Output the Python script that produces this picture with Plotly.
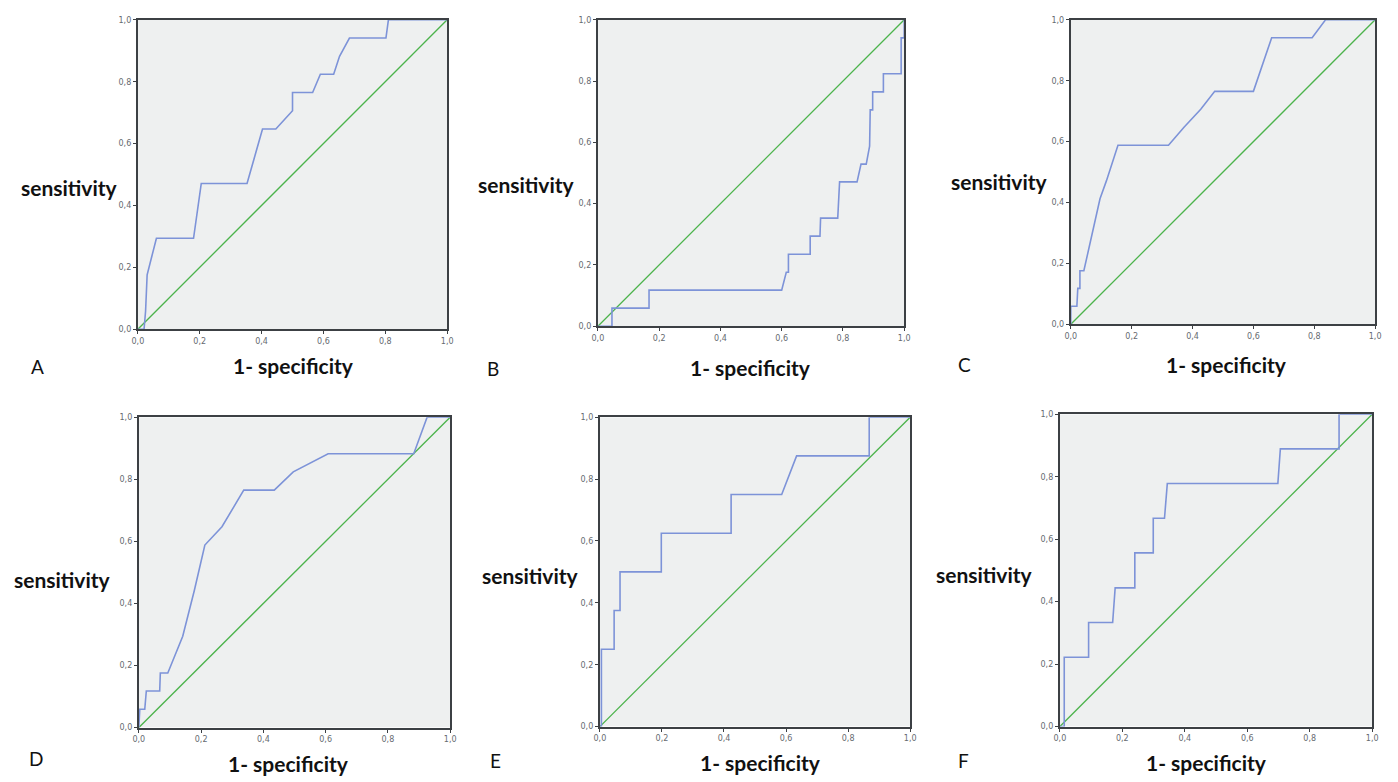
import plotly.graph_objects as go

W, H = 1398, 782

# ---- data ----
panel_letters = ["A", "B", "C", "D", "E", "F"]
tick_vals = [0.0, 0.2, 0.4, 0.6, 0.8, 1.0]
tick_text = ["0,0", "0,2", "0,4", "0,6", "0,8", "1,0"]
y_title = "sensitivity"
x_title = "1- specificity"

roc_A_x = [0, 0.02, 0.025, 0.03, 0.045, 0.06, 0.18, 0.205, 0.353, 0.403, 0.446, 0.5, 0.5, 0.565, 0.59, 0.633, 0.652, 0.684, 0.802, 0.81, 1.0]
roc_A_y = [0, 0.0, 0.059, 0.176, 0.235, 0.294, 0.294, 0.471, 0.471, 0.647, 0.647, 0.706, 0.765, 0.765, 0.824, 0.824, 0.882, 0.941, 0.941, 1.0, 1.0]

roc_B_x = [0, 0.046, 0.046, 0.167, 0.167, 0.6, 0.615, 0.622, 0.622, 0.693, 0.693, 0.725, 0.727, 0.783, 0.789, 0.846, 0.859, 0.876, 0.887, 0.889, 0.897, 0.897, 0.932, 0.932, 0.99, 0.99, 1.0, 1.0]
roc_B_y = [0, 0.0, 0.059, 0.059, 0.118, 0.118, 0.176, 0.176, 0.235, 0.235, 0.294, 0.294, 0.353, 0.353, 0.471, 0.471, 0.529, 0.529, 0.588, 0.706, 0.706, 0.765, 0.765, 0.824, 0.824, 0.941, 0.941, 1.0]

roc_C_x = [0, 0.0, 0.02, 0.023, 0.03, 0.03, 0.043, 0.096, 0.117, 0.155, 0.321, 0.372, 0.427, 0.473, 0.60, 0.66, 0.793, 0.837, 1.0]
roc_C_y = [0, 0.059, 0.059, 0.118, 0.118, 0.176, 0.176, 0.412, 0.471, 0.588, 0.588, 0.647, 0.706, 0.765, 0.765, 0.941, 0.941, 1.0, 1.0]

roc_D_x = [0, 0.003, 0.019, 0.024, 0.067, 0.069, 0.093, 0.141, 0.178, 0.212, 0.267, 0.337, 0.435, 0.496, 0.608, 0.883, 0.926, 1.0]
roc_D_y = [0, 0.059, 0.059, 0.118, 0.118, 0.176, 0.176, 0.294, 0.441, 0.588, 0.647, 0.765, 0.765, 0.824, 0.882, 0.882, 1.0, 1.0]

roc_E_x = [0, 0.005, 0.005, 0.046, 0.046, 0.065, 0.065, 0.198, 0.198, 0.423, 0.423, 0.586, 0.634, 0.868, 0.868, 1.0]
roc_E_y = [0, 0.0, 0.25, 0.25, 0.375, 0.375, 0.5, 0.5, 0.625, 0.625, 0.75, 0.75, 0.875, 0.875, 1.0, 1.0]

roc_F_x = [0, 0.014, 0.014, 0.092, 0.092, 0.169, 0.177, 0.24, 0.24, 0.299, 0.299, 0.335, 0.344, 0.698, 0.706, 0.894, 0.894, 1.0]
roc_F_y = [0, 0.0, 0.222, 0.222, 0.333, 0.333, 0.444, 0.444, 0.556, 0.556, 0.667, 0.667, 0.778, 0.778, 0.889, 0.889, 1.0, 1.0]

ref_x = [0.0, 1.0]
ref_y = [0.0, 1.0]

curves = [(roc_A_x, roc_A_y), (roc_B_x, roc_B_y), (roc_C_x, roc_C_y),
          (roc_D_x, roc_D_y), (roc_E_x, roc_E_y), (roc_F_x, roc_F_y)]

# ---- layout (pixel boxes of each plot area: left, top, right, bottom) ----
boxes = [(133, 16, 445, 329), (597, 16, 906, 326), (1074, 16, 1381, 324),
         (134, 418, 448, 732), (599, 418, 912, 731), (1063, 415, 1378, 731)]
ylab_pos = [(64, 186), (525, 183), (1002, 180), (57, 582), (529, 578), (987, 577)]
xlab_pos = [(290, 366), (751, 368), (1231, 365), (285, 768), (761, 767), (1211, 767)]
letter_pos = [(32, 367), (491, 369), (967, 365), (30, 763), (494, 765), (966, 765)]

BLUE = "#7d93d8"
GREEN = "#4cb34c"
FRAME = "#3c4044"
BG = "#eef0f0"

fig = go.Figure()
annotations = []
for i, ((cx, cy), (l, t, r, b)) in enumerate(zip(curves, boxes)):
    n = "" if i == 0 else str(i + 1)
    xa, ya = "x" + n, "y" + n
    fig.add_trace(go.Scatter(x=ref_x, y=ref_y, mode="lines", xaxis=xa, yaxis=ya,
                             line=dict(color=GREEN, width=1.3), showlegend=False, hoverinfo="skip"))
    fig.add_trace(go.Scatter(x=cx, y=cy, mode="lines", xaxis=xa, yaxis=ya,
                             line=dict(color=BLUE, width=1.6), showlegend=False))
    axis_common = dict(range=[0, 1], tickvals=tick_vals, ticktext=tick_text, showgrid=False,
                       zeroline=False, showline=True, mirror=True, linecolor=FRAME, linewidth=2,
                       ticks="outside", ticklen=3, tickwidth=1, tickcolor=FRAME,
                       tickfont=dict(family="DejaVu Sans", size=8, color="#666a70"), fixedrange=True)
    fig.layout["xaxis" + n] = dict(domain=[l / W, r / W], anchor=ya, **axis_common)
    fig.layout["yaxis" + n] = dict(domain=[1 - b / H, 1 - t / H], anchor=xa, **axis_common)
    fig.add_shape(type="rect", xref=xa, yref=ya, x0=0, y0=0, x1=1, y1=1,
                  fillcolor=BG, line=dict(width=0), layer="below")
    px, py = ylab_pos[i]
    annotations.append(dict(x=px / W, y=1 - py / H, xref="paper", yref="paper", text="<b>" + y_title + "</b>",
                            showarrow=False, font=dict(family="Lato", size=21, color="#111"),
                            xanchor="center", yanchor="middle"))
    px, py = xlab_pos[i]
    annotations.append(dict(x=px / W, y=1 - py / H, xref="paper", yref="paper", text="<b>" + x_title + "</b>",
                            showarrow=False, font=dict(family="Lato", size=21, color="#111"),
                            xanchor="center", yanchor="middle"))
    px, py = letter_pos[i]
    annotations.append(dict(x=px / W, y=1 - py / H, xref="paper", yref="paper", text=panel_letters[i],
                            showarrow=False, font=dict(family="Lato", size=19, color="#111"),
                            xanchor="center", yanchor="middle"))

fig.update_layout(width=W, height=H, margin=dict(l=0, r=0, t=0, b=0),
                  paper_bgcolor="white", plot_bgcolor="white", annotations=annotations)

fig.write_html("out.html")
